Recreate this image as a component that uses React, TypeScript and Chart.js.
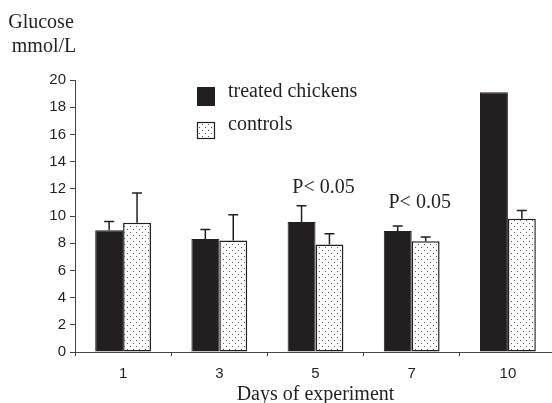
import React, { useEffect, useRef } from 'react';
import { Chart, registerables } from 'chart.js';

Chart.register(...registerables);

// ---- data ----
const days = ['1', '3', '5', '7', '10'];
const seriesNames = ['treated chickens', 'controls'];
const treated = [8.95, 8.3, 9.55, 8.9, 19.1];
const treatedErr = [0.65, 0.7, 1.2, 0.37, 0];
const controls = [9.5, 8.2, 7.9, 8.15, 9.8];
const controlsErr = [2.2, 1.9, 0.8, 0.3, 0.6];
const annotations = [
  { index: 2, value: 11.7, text: 'P< 0.05' },
  { index: 3, value: 10.6, text: 'P< 0.05' },
];
const yTitle = ['Glucose', 'mmol/L'];
const xTitle = 'Days of experiment';

const INK = '#231f20';
const SERIF = '"Liberation Serif", "Times New Roman", serif';
const SANS = '"Liberation Sans", Arial, sans-serif';

function makePattern(ctx: CanvasRenderingContext2D): CanvasPattern | string {
  const tile = document.createElement('canvas');
  tile.width = 6;
  tile.height = 6;
  const t = tile.getContext('2d');
  if (!t) return '#fff';
  t.fillStyle = '#ffffff';
  t.fillRect(0, 0, 6, 6);
  t.fillStyle = '#555555';
  t.fillRect(1, 1, 1, 1);
  t.fillRect(4, 4, 1, 1);
  return ctx.createPattern(tile, 'repeat') || '#fff';
}

export default function App() {
  const ref = useRef<HTMLCanvasElement>(null);

  useEffect(() => {
    const canvas = ref.current;
    if (!canvas) return;
    const ctx0 = canvas.getContext('2d')!;
    const pattern = makePattern(ctx0);

    const overlay = {
      id: 'overlay',
      afterDatasetsDraw(chart: any) {
        const ctx = chart.ctx as CanvasRenderingContext2D;
        const y = chart.scales.y;
        ctx.save();
        ctx.strokeStyle = INK;
        ctx.lineWidth = 1.5;
        [treatedErr, controlsErr].forEach((errs, di) => {
          const meta = chart.getDatasetMeta(di);
          meta.data.forEach((el: any, i: number) => {
            const e = errs[i];
            if (!e) return;
            const v = chart.data.datasets[di].data[i] as number;
            const top = y.getPixelForValue(v + e);
            ctx.beginPath();
            ctx.moveTo(el.x, el.y);
            ctx.lineTo(el.x, top);
            ctx.moveTo(el.x - 5, top);
            ctx.lineTo(el.x + 5, top);
            ctx.stroke();
          });
        });
        ctx.restore();
      },
      afterDraw(chart: any) {
        const ctx = chart.ctx as CanvasRenderingContext2D;
        const x = chart.scales.x;
        const y = chart.scales.y;
        ctx.save();
        ctx.fillStyle = INK;
        ctx.font = `20px ${SERIF}`;
        ctx.textBaseline = 'alphabetic';

        // y-axis title (top-left)
        ctx.textAlign = 'center';
        ctx.fillText(yTitle[0], 41, 28);
        ctx.fillText(yTitle[1], 44, 52);

        // significance annotations
        annotations.forEach((a) => {
          ctx.fillText(a.text, x.getPixelForValue(a.index) + 8, y.getPixelForValue(a.value));
        });

        // legend
        ctx.textAlign = 'left';
        ctx.fillStyle = INK;
        ctx.fillRect(197, 87, 18, 19);
        ctx.fillText(seriesNames[0], 228, 97);
        ctx.fillStyle = pattern as any;
        ctx.fillRect(197, 122, 18, 17);
        ctx.strokeStyle = INK;
        ctx.lineWidth = 1.2;
        ctx.strokeRect(197.5, 122.5, 17, 16);
        ctx.fillStyle = INK;
        ctx.fillText(seriesNames[1], 228, 130);
        ctx.restore();
      },
    };

    const chart = new Chart(canvas, {
      type: 'bar',
      data: {
        labels: days,
        datasets: [
          {
            label: seriesNames[0],
            data: treated,
            backgroundColor: INK,
            borderColor: INK,
            borderWidth: 1,
            categoryPercentage: 0.58,
            barPercentage: 1,
          },
          {
            label: seriesNames[1],
            data: controls,
            backgroundColor: pattern as any,
            borderColor: INK,
            borderWidth: 1.5,
            borderSkipped: false,
            categoryPercentage: 0.58,
            barPercentage: 1,
          },
        ],
      },
      options: {
        responsive: false,
        maintainAspectRatio: false,
        animation: false,
        layout: { padding: { top: 80, right: 4, left: 0, bottom: 0 } },
        plugins: {
          legend: { display: false },
          tooltip: { enabled: false },
        },
        scales: {
          x: {
            grid: {
              display: true,
              drawOnChartArea: false,
              drawTicks: true,
              tickLength: 4,
              color: '#444',
              offset: true,
            },
            border: { display: true, color: '#444', width: 1 },
            ticks: { font: { family: SANS, size: 15 }, color: INK, padding: 9 },
            title: {
              display: true,
              text: xTitle,
              font: { family: SERIF, size: 20, lineHeight: 0.8 },
              color: INK,
              padding: 0,
            },
            afterFit: (s: any) => {
              s.height = 51;
            },
          },
          y: {
            min: 0,
            max: 20,
            ticks: { stepSize: 2, font: { family: SANS, size: 15 }, color: INK, padding: 4 },
            grid: { drawOnChartArea: false, drawTicks: true, tickLength: 5, color: '#444' },
            border: { display: true, color: '#444', width: 1 },
            afterFit: (s: any) => {
              s.width = 75;
            },
          },
        },
      },
      plugins: [overlay],
    });

    return () => chart.destroy();
  }, []);

  return (
    <div
      style={{
        position: 'absolute',
        left: 0,
        top: 0,
        width: 552,
        height: 403,
        overflow: 'hidden',
        background: '#fff',
      }}
    >
      <canvas ref={ref} width={560} height={403} style={{ display: 'block', width: 560, height: 403 }} />
    </div>
  );
}
